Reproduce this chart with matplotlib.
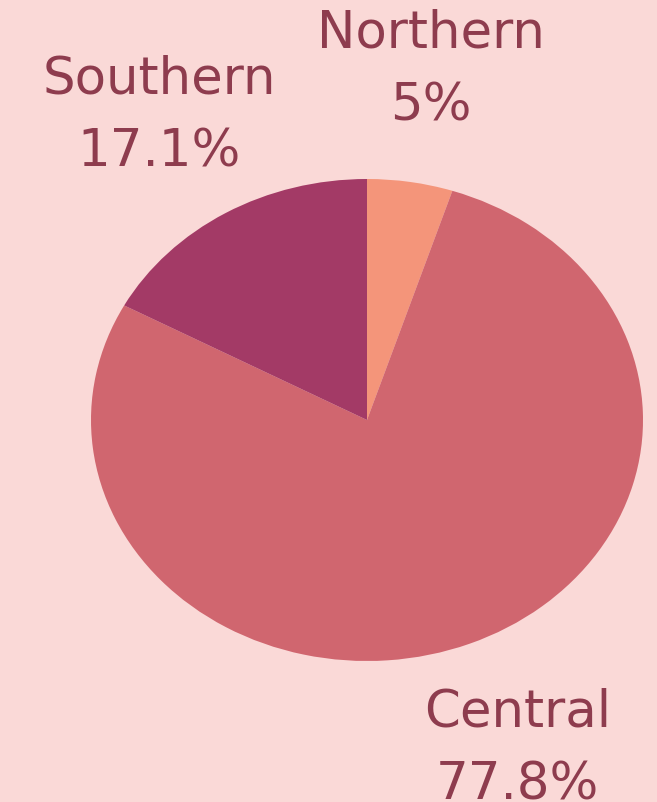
import matplotlib.pyplot as plt

# data
regions = ["Northern", "Central", "Southern"]
shares = [5.0, 77.8, 17.1]
colors = ["#F4957A", "#D0666F", "#A33A66"]
bg = "#FAD9D7"
text_color = "#8E3C4E"

fig = plt.figure(figsize=(6.57, 8.02), dpi=100, facecolor=bg)
# axes box covers the (stretched) pie exactly
ax = fig.add_axes([91 / 657, 1 - 661 / 802, 552 / 657, 482 / 802])
ax.set_facecolor(bg)

labels = [f"{r}\n{s:g}%" for r, s in zip(regions, shares)]
wedges, texts = ax.pie(shares, labels=labels, colors=colors, startangle=90,
                       counterclock=False, labeldistance=1.47,
                       wedgeprops=dict(linewidth=0))
for t in texts:
    t.set_ha("center")
    t.set_va("center")
    t.set_multialignment("center")
    t.set_fontsize(37)
    t.set_color(text_color)
    t.set_linespacing(1.6)
    t.set_clip_on(False)

ax.set_aspect("auto")
ax.set_xlim(-1, 1)
ax.set_ylim(-1, 1)
ax.axis("off")

fig.savefig("out.png", dpi=100, facecolor=bg)
